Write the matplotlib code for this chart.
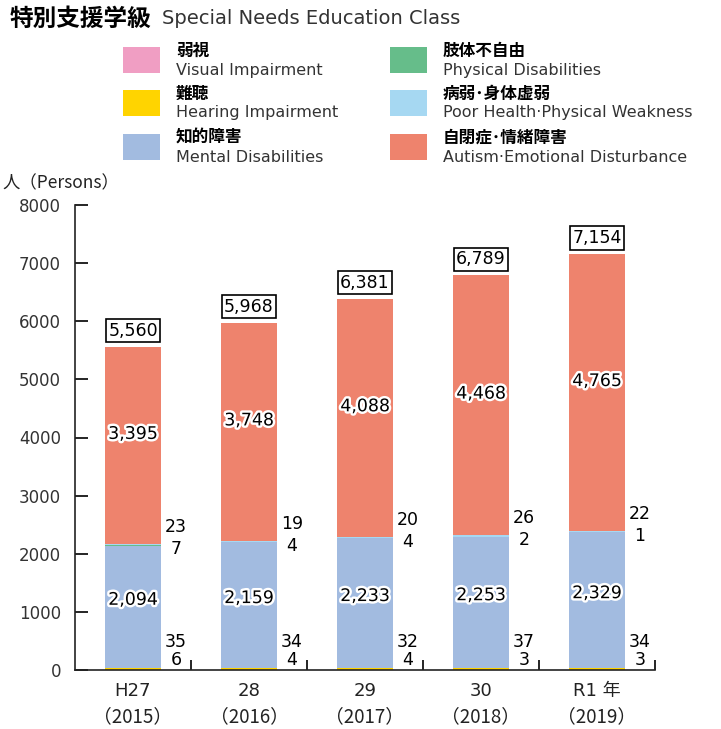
import matplotlib
matplotlib.use("Agg")
import matplotlib.pyplot as plt
import matplotlib.patheffects as pe
from matplotlib.patches import Rectangle
import numpy as np

plt.rcParams["font.family"] = ["DejaVu Sans", "Noto Sans CJK JP"]

# ── Data ─────────────────────────────────────────────────────────────────────
year_jp = ["H27", "28", "29", "30", "R1 年"]
year_ad = ["（2015）", "（2016）", "（2017）", "（2018）", "（2019）"]

visual   = [6, 4, 4, 3, 3]
hearing  = [35, 34, 32, 37, 34]
mental   = [2094, 2159, 2233, 2253, 2329]
physical = [7, 4, 4, 2, 1]
poor     = [23, 19, 20, 26, 22]
autism   = [3395, 3748, 4088, 4468, 4765]
totals   = [5560, 5968, 6381, 6789, 7154]

yticks = [0, 1000, 2000, 3000, 4000, 5000, 6000, 7000, 8000]

series = [
    ("弱視", "Visual Impairment", visual, "#F09EC3"),
    ("難聴", "Hearing Impairment", hearing, "#FFD400"),
    ("知的障害", "Mental Disabilities", mental, "#A2BBE0"),
    ("肢体不自由", "Physical Disabilities", physical, "#66BD8A"),
    ("病弱･身体虚弱", "Poor Health·Physical Weakness", poor, "#A6D8F2"),
    ("自閉症･情緒障害", "Autism·Emotional Disturbance", autism, "#EE836D"),
]

W, H = 721, 729
fig = plt.figure(figsize=(W / 100, H / 100), dpi=100)
ax = fig.add_axes([75 / W, 1 - 670 / H, (655 - 75) / W, (670 - 205) / H])

x = np.arange(len(year_jp))
bw = 0.48
bottom = np.zeros(len(x))
for jp, en, vals, col in series:
    ax.bar(x, vals, bw, bottom=bottom, color=col, linewidth=0, zorder=2)
    bottom += np.array(vals)

halo = [pe.withStroke(linewidth=3.5, foreground="white")]
fs = 12.5
for i in range(len(x)):
    base_m = visual[i] + hearing[i]
    top_m = base_m + mental[i]
    top_p = top_m + physical[i] + poor[i]
    ax.text(i, base_m + mental[i] / 2 + 120, f"{mental[i]:,}", ha="center", va="center",
            fontsize=fs, path_effects=halo, zorder=4)
    ax.text(i, top_p + autism[i] / 2 + 200, f"{autism[i]:,}", ha="center", va="center",
            fontsize=fs, path_effects=halo, zorder=4)
    ax.text(i + 0.37, top_p + 290, f"{poor[i]}", ha="center", va="center", fontsize=fs)
    ax.text(i + 0.37, top_p - 90, f"{physical[i]}", ha="center", va="center", fontsize=fs)
    ax.text(i + 0.37, 480, f"{hearing[i]}", ha="center", va="center", fontsize=fs)
    ax.text(i + 0.37, 170, f"{visual[i]}", ha="center", va="center", fontsize=fs)
    ax.text(i, totals[i] + 280, f"{totals[i]:,}", ha="center", va="center", fontsize=fs,
            bbox=dict(boxstyle="square,pad=0.15", fc="white", ec="black", lw=1.2), zorder=5)

ax.set_xlim(-0.5, 4.5)
ax.set_ylim(0, 8000)
ax.set_yticks(yticks)
ax.set_yticklabels([str(v) for v in yticks], fontsize=12, color="#333333")
ax.tick_params(axis="y", direction="in", length=9, width=1.2, pad=10)
ax.set_xticks(x + 0.5, minor=False)
ax.tick_params(axis="x", direction="in", length=7, width=1.2, labelbottom=False)
for s in ["top", "right"]:
    ax.spines[s].set_visible(False)
for s in ["left", "bottom"]:
    ax.spines[s].set_linewidth(1.2)
    ax.spines[s].set_color("#222222")

for i in range(len(x)):
    ax.text(i, -0.045, year_jp[i], transform=ax.get_xaxis_transform(),
            ha="center", va="center", fontsize=13, color="#222222")
    ax.text(i, -0.1, year_ad[i], transform=ax.get_xaxis_transform(),
            ha="center", va="center", fontsize=13.5, color="#222222",
            family=["Noto Sans CJK JP"])

# ── Header / legend ──────────────────────────────────────────────────────────
def fx(px):
    return px / W

def fy(py):
    return 1 - py / H

fig.text(fx(10), fy(19), "特別支援学級", fontsize=17, fontweight="bold",
         va="center", family=["Noto Sans CJK JP"])
fig.text(fx(162), fy(19), "Special Needs Education Class", fontsize=14,
         va="center", color="#333333")

cols = [123, 390]
rows = [60, 103, 147]
for k, (jp, en, vals, col) in enumerate(series):
    cx = cols[k // 3]
    cy = rows[k % 3]
    fig.add_artist(Rectangle((fx(cx), fy(cy + 13)), 37 / W, 26 / H,
                             transform=fig.transFigure, color=col, lw=0))
    fig.text(fx(cx + 53), fy(cy - 9), jp, fontsize=12, fontweight="bold", va="center",
             family=["Noto Sans CJK JP"])
    fig.text(fx(cx + 53), fy(cy + 10), en, fontsize=11.5, va="center", color="#333333")

fig.text(fx(2), fy(183), "人（Persons）", fontsize=12.5, va="center",
         family=["Noto Sans CJK JP", "DejaVu Sans"], color="#222222")

fig.savefig("out.png", dpi=100)
